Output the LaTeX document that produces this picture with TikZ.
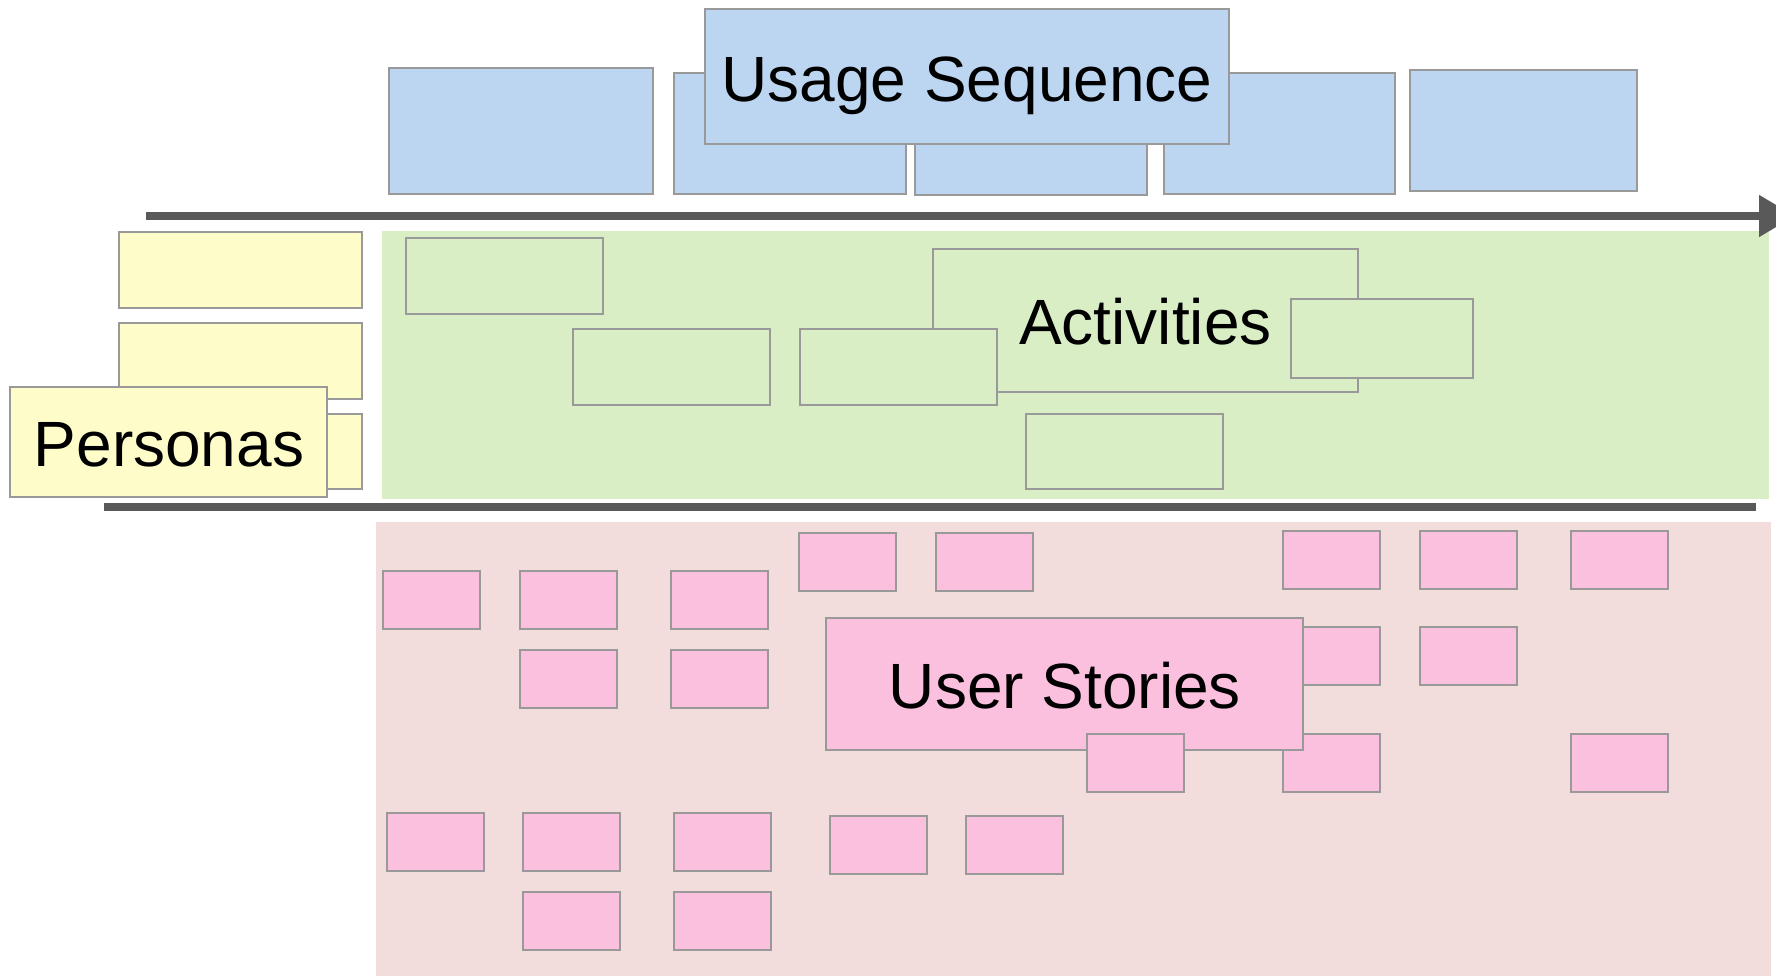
\documentclass[tikz,border=0pt]{standalone}
\usepackage{fontspec}
\setmainfont{Liberation Sans}
\usetikzlibrary{arrows.meta}
\definecolor{seqblue}{HTML}{BCD6F2}
\definecolor{actgreen}{HTML}{DAEEC6}
\definecolor{personayellow}{HTML}{FEFDC9}
\definecolor{storybg}{HTML}{F2DCDC}
\definecolor{storypink}{HTML}{FCC0DF}
\definecolor{cardedge}{HTML}{999999}
\definecolor{flowgray}{HTML}{595959}
\tikzset{
  card/.style={draw=cardedge, line width=0.75pt},
  seqcard/.style={card, fill=seqblue},
  actcard/.style={card, fill=actgreen},
  personacard/.style={card, fill=personayellow},
  storycard/.style={card, fill=storypink},
  flowline/.style={draw=flowgray, line width=4pt},
  bigtext/.style={font=\fontsize{32}{38}\selectfont, anchor=base, inner sep=0pt}
}
\begin{document}
\begin{tikzpicture}[x=0.5pt,y=-0.5pt]
  \useasboundingbox (0,0) rectangle (1776,975);
  % bands
  \fill[actgreen] (382,231) rectangle (1769,499);
  \fill[storybg] (376,522) rectangle (1771,980);
  % usage sequence
  \draw[seqcard] (389,68) rectangle (653,194);
  \draw[seqcard] (674,73) rectangle (906,194);
  \draw[seqcard] (915,73) rectangle (1147,195);
  \draw[seqcard] (1164,73) rectangle (1395,194);
  \draw[seqcard] (1410,70) rectangle (1637,191);
  \draw[seqcard] (705,9) rectangle (1229,144);
  \node[bigtext] (usage) at (967,101) {Usage Sequence};
  \coordinate (seqstart) at (146,216);
  \coordinate (seqend) at (1795,216);
  \draw[flowline, >={Triangle[length=18pt,width=20pt]}, ->] (seqstart) -- (seqend);
  % personas
  \draw[personacard] (119,232) rectangle (362,308);
  \draw[personacard] (119,323) rectangle (362,399);
  \draw[personacard] (119,414) rectangle (362,489);
  \draw[personacard] (10,387) rectangle (327,497);
  \node[bigtext] (personas) at (169,466) {Personas};
  % activities
  \draw[actcard] (406,238) rectangle (603,314);
  \draw[actcard] (573,329) rectangle (770,405);
  \draw[actcard] (933,249) rectangle (1358,392);
  \node[bigtext] (activities) at (1145.5,344) {Activities};
  \draw[actcard] (800,329) rectangle (997,405);
  \draw[actcard] (1291,299) rectangle (1473,378);
  \draw[actcard] (1026,414) rectangle (1223,489);
  \coordinate (rowstart) at (104,507);
  \coordinate (rowend) at (1756,507);
  \draw[flowline] (rowstart) -- (rowend);
  % user stories
  \draw[storycard] (383,571) rectangle ++(97,58);
  \draw[storycard] (520,571) rectangle ++(97,58);
  \draw[storycard] (671,571) rectangle ++(97,58);
  \draw[storycard] (799,533) rectangle ++(97,58);
  \draw[storycard] (936,533) rectangle ++(97,58);
  \draw[storycard] (1283,531) rectangle ++(97,58);
  \draw[storycard] (1420,531) rectangle ++(97,58);
  \draw[storycard] (1571,531) rectangle ++(97,58);
  \draw[storycard] (520,650) rectangle ++(97,58);
  \draw[storycard] (671,650) rectangle ++(97,58);
  \draw[storycard] (1283,627) rectangle ++(97,58);
  \draw[storycard] (1420,627) rectangle ++(97,58);
  \draw[storycard] (1283,734) rectangle ++(97,58);
  \draw[storycard] (1571,734) rectangle ++(97,58);
  \draw[storycard] (826,618) rectangle (1303,750);
  \node[bigtext] (stories) at (1065,708.5) {User Stories};
  \draw[storycard] (1087,734) rectangle ++(97,58);
  \draw[storycard] (387,813) rectangle ++(97,58);
  \draw[storycard] (523,813) rectangle ++(97,58);
  \draw[storycard] (674,813) rectangle ++(97,58);
  \draw[storycard] (830,816) rectangle ++(97,58);
  \draw[storycard] (966,816) rectangle ++(97,58);
  \draw[storycard] (523,892) rectangle ++(97,58);
  \draw[storycard] (674,892) rectangle ++(97,58);
\end{tikzpicture}
\end{document}
